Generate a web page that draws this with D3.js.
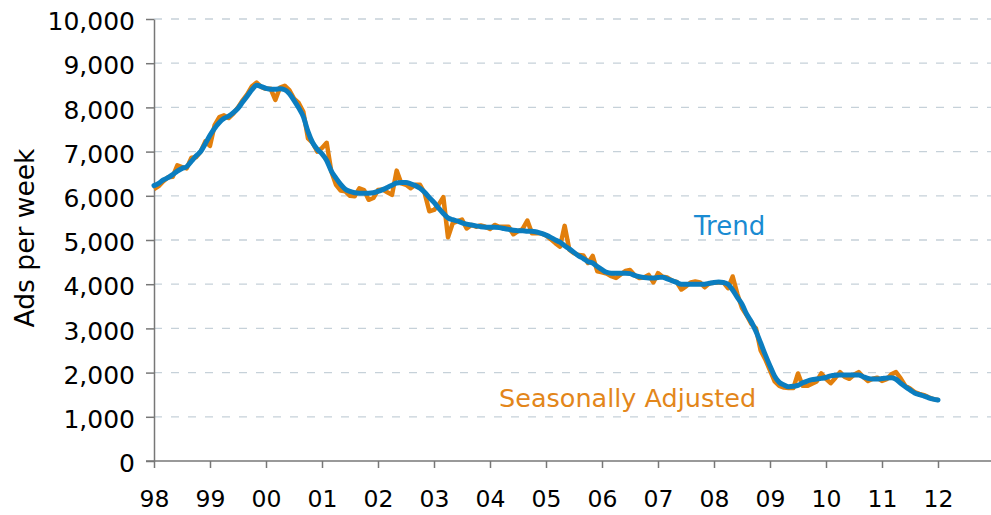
<!DOCTYPE html>
<html>
<head>
<meta charset="utf-8">
<script src="https://cdn.jsdelivr.net/npm/d3@7"></script>
<style>
  body { margin: 0; background: #fff; }
  text { font-family: "DejaVu Sans", Verdana, sans-serif; }
</style>
</head>
<body>
<div id="chart"></div>
<script>
// Monthly data, Jan 1998 .. Jan 2012
var startYear = 1998;

var yearTicks = [1998, 1999, 2000, 2001, 2002, 2003, 2004, 2005, 2006, 2007, 2008, 2009, 2010, 2011, 2012];
var yTicks = [0, 1000, 2000, 3000, 4000, 5000, 6000, 7000, 8000, 9000, 10000];

var seasonallyAdjusted = [
  6150, 6220, 6330, 6420, 6430, 6690, 6650, 6620, 6860, 6870, 7000, 7230,
  7130, 7600, 7780, 7820, 7760, 7860, 8000, 8160, 8300, 8480, 8560, 8460,
  8420, 8420, 8170, 8450, 8490, 8390, 8200, 8100, 7900, 7300, 7200, 7000,
  7080, 7200, 6550, 6250, 6120, 6100, 6000, 5990, 6170, 6130, 5910, 5950,
  6130, 6140, 6080, 6020, 6570, 6280, 6250, 6170, 6250, 6250, 6060, 5650,
  5680, 5800, 5970, 5060, 5380, 5420, 5460, 5260, 5340, 5300, 5330, 5300,
  5250, 5340, 5300, 5300, 5300, 5130, 5200, 5250, 5440, 5150, 5150, 5150,
  5100, 5020, 4930, 4850, 5320, 4780, 4700, 4660, 4650, 4480, 4640, 4290,
  4270, 4240, 4180, 4140, 4220, 4300, 4320, 4200, 4140, 4150, 4210, 4040,
  4250, 4170, 4150, 4080, 4050, 3880, 3950, 4040, 4060, 4040, 3930, 4020,
  4030, 4040, 4040, 3910, 4175, 3780, 3460, 3300, 3100, 3000, 2500, 2300,
  2050, 1800, 1700, 1660, 1650, 1650, 1980, 1700, 1700, 1750, 1800, 1980,
  1860, 1760, 1880, 2010, 1900, 1860, 1950, 2010, 1900, 1810, 1860, 1885,
  1810, 1850, 1960, 2010, 1870, 1700, 1640, 1560, 1520, 1490, 1440, 1400,
  1380
];

var trend = [
  6230, 6280, 6360, 6410, 6480, 6560, 6620, 6660, 6780, 6900, 7000, 7180,
  7370, 7530, 7660, 7750, 7800, 7880, 7980, 8120, 8260, 8400, 8500, 8470,
  8430, 8410, 8410, 8420, 8400, 8310, 8160, 7990, 7790, 7450, 7200, 7050,
  6950, 6800, 6560, 6400, 6260, 6150, 6100, 6070, 6060, 6060, 6060, 6070,
  6100, 6140, 6190, 6240, 6290, 6300, 6300, 6270, 6230, 6170, 6080, 5960,
  5850, 5720, 5600, 5500, 5460, 5430, 5390, 5360, 5340, 5320, 5300, 5290,
  5290, 5290, 5280, 5260, 5240, 5220, 5210, 5210, 5200, 5200, 5180, 5150,
  5110, 5060, 5000, 4950, 4870, 4800, 4720, 4640, 4580, 4510, 4480, 4400,
  4330, 4270, 4250, 4250, 4250, 4250, 4240, 4200, 4170, 4150, 4140, 4140,
  4150, 4160, 4120, 4080, 4040, 4000, 4000, 4000, 4000, 4000, 4000, 4020,
  4040, 4050, 4040, 4000, 3870, 3700, 3550, 3320, 3150, 2930, 2670, 2400,
  2150, 1920, 1780, 1720, 1680, 1690, 1710, 1770, 1810, 1840, 1855, 1870,
  1890, 1925, 1940, 1945, 1945, 1945, 1945, 1945, 1905, 1870, 1855, 1855,
  1865, 1880, 1885, 1850, 1760, 1680, 1610, 1540, 1500, 1470, 1430, 1400,
  1380
];

var svgWidth = 991;
var svgHeight = 515;

var margin = { top: 19, right: 0, bottom: 54, left: 154 };
var height = svgHeight - margin.top - margin.bottom;

var svg = d3.select("#chart")
  .append("svg")
  .attr("width", svgWidth)
  .attr("height", svgHeight);

// scales
var xScale = d3.scaleLinear()
  .domain([1998, 2013])
  .range([margin.left, margin.left + 15 * 56]);

var yScale = d3.scaleLinear()
  .domain([0, 10000])
  .range([margin.top + height, margin.top]);

// dashed gridlines
svg.append("g")
  .selectAll("line")
  .data(yTicks.filter(d => d > 0))
  .enter()
  .append("line")
  .attr("x1", margin.left)
  .attr("x2", svgWidth)
  .attr("y1", d => yScale(d))
  .attr("y2", d => yScale(d))
  .attr("stroke", "#c6d1d9")
  .attr("stroke-width", 1.3)
  .attr("stroke-dasharray", "8,9");

// axes
var leftAxis = d3.axisLeft(yScale)
  .tickValues(yTicks)
  .tickFormat(d3.format(","))
  .tickSize(8)
  .tickSizeOuter(0)
  .tickPadding(11);

var bottomAxis = d3.axisBottom(xScale)
  .tickValues(yearTicks)
  .tickFormat(d => String(d).slice(2))
  .tickSize(7)
  .tickSizeOuter(0);

var yAxis = svg.append("g")
  .attr("transform", `translate(${margin.left}, 0)`)
  .call(leftAxis);

yAxis.selectAll("text")
  .attr("font-size", "25px")
  .attr("fill", "#000")
  .attr("dy", "0.43em");

var xAxis = svg.append("g")
  .attr("transform", `translate(0, ${margin.top + height})`)
  .call(bottomAxis);

xAxis.select(".domain").attr("d", `M${margin.left - 8},0H${svgWidth}`);

xAxis.selectAll("text")
  .attr("font-size", "23.5px")
  .attr("fill", "#000")
  .attr("y", 46)
  .attr("dy", null);

svg.selectAll(".domain, .tick line")
  .attr("stroke", "#777")
  .attr("stroke-width", 1.5);

// lines
var line = d3.line()
  .x((d, i) => xScale(startYear + i / 12))
  .y(d => yScale(d));

svg.append("path")
  .datum(seasonallyAdjusted)
  .attr("fill", "none")
  .attr("stroke", "#e27f0c")
  .attr("stroke-width", 4.5)
  .attr("stroke-linejoin", "round")
  .attr("d", line);

svg.append("path")
  .datum(trend)
  .attr("fill", "none")
  .attr("stroke", "#0b7dbf")
  .attr("stroke-width", 5)
  .attr("stroke-linejoin", "round")
  .attr("stroke-linecap", "round")
  .attr("d", line.curve(d3.curveMonotoneX));

// labels
svg.append("text")
  .attr("x", 694)
  .attr("y", 235)
  .attr("font-size", "26px")
  .attr("fill", "#1a8bd2")
  .text("Trend");

svg.append("text")
  .attr("x", 499)
  .attr("y", 407)
  .attr("font-size", "25.5px")
  .attr("fill", "#e3861a")
  .text("Seasonally Adjusted");

svg.append("text")
  .attr("transform", "rotate(-90)")
  .attr("x", -238)
  .attr("y", 34)
  .attr("text-anchor", "middle")
  .attr("font-size", "26.5px")
  .attr("fill", "#000")
  .text("Ads per week");
</script>
</body>
</html>
